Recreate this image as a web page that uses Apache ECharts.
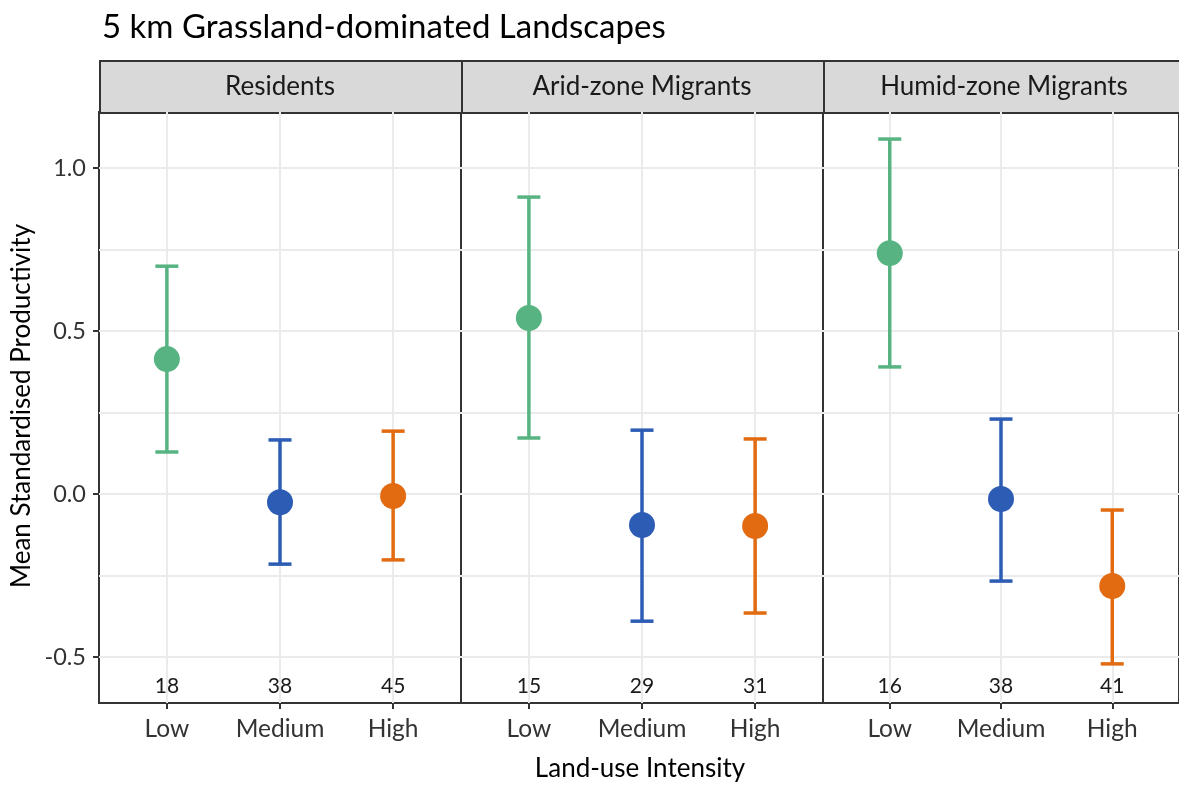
<!DOCTYPE html>
<html>
<head>
<meta charset="utf-8">
<script src="https://cdn.jsdelivr.net/npm/echarts@6/dist/echarts.min.js"></script>
<style>
html,body{margin:0;padding:0;background:#fff}
#main{width:1179px;height:785px}
</style>
</head>
<body>
<div id="main"></div>
<script>
// data
var panels = ['Residents', 'Arid-zone Migrants', 'Humid-zone Migrants'];
var categories = ['Low', 'Medium', 'High'];
var means = [[0.414, -0.025, -0.006], [0.540, -0.095, -0.098], [0.739, -0.015, -0.282]];
var lower = [[0.129, -0.215, -0.202], [0.172, -0.390, -0.365], [0.390, -0.267, -0.521]];
var upper = [[0.699, 0.166, 0.193], [0.911, 0.196, 0.169], [1.089, 0.230, -0.049]];
var counts = [[18, 38, 45], [15, 29, 31], [16, 38, 41]];
var yTicks = [-0.5, 0, 0.5, 1.0];
var yGrid = [-0.5, -0.25, 0, 0.25, 0.5, 0.75, 1.0];

var colors = ['#57b482', '#2d5cb4', '#e26b12']; // low, medium, high
var font = 'Lato';
var yMin = -0.641, yMax = 1.172;
var countY = -0.59;
var panelLeft = 99, panelW = 362, panelTop = 112, panelBottom = 703;

var mychart = echarts.init(document.getElementById('main'));

var grids = [], xAxes = [], yAxes = [], series = [], graphics = [];
for (var p = 0; p < panels.length; p++) {
	grids.push({
		left: panelLeft + panelW * p, top: panelTop, width: panelW,
		height: panelBottom - panelTop,
		show: true, borderColor: '#333', borderWidth: 2, backgroundColor: '#fff'
	});
	xAxes.push({
		type: 'value', gridIndex: p, min: 0.4, max: 3.6, position: 'bottom',
		axisLine: {show: false, onZero: false},
		axisTick: {show: true, length: 6, customValues: [1, 2, 3], lineStyle: {color: '#333', width: 2}},
		axisLabel: {customValues: [1, 2, 3], margin: 14, fontFamily: font, fontSize: 24.5, color: '#333',
			formatter: function (v) { return categories[Math.round(v) - 1]; }},
		splitLine: {show: true, lineStyle: {color: '#ebebeb', width: 2}}
	});
	// gridlines (major + minor)
	yAxes.push({
		type: 'value', gridIndex: p, min: yMin, max: yMax, position: 'right',
		axisLine: {show: false, onZero: false},
		axisTick: {show: false, customValues: yGrid},
		axisLabel: {show: false},
		splitLine: {show: true, lineStyle: {color: '#ebebeb', width: 2}}
	});
}
// left axis with labels
yAxes.push({
	type: 'value', gridIndex: 0, min: yMin, max: yMax, position: 'left',
	axisLine: {show: false, onZero: false},
	axisTick: {show: true, length: 6, customValues: yTicks, lineStyle: {color: '#333', width: 2}},
	axisLabel: {customValues: yTicks, margin: 13, fontFamily: font, fontSize: 23.5, color: '#333',
		formatter: function (v) { return v.toFixed(1); }},
	splitLine: {show: false}
});

for (var p = 0; p < panels.length; p++) {
	var ebData = [], ptData = [], nData = [];
	for (var i = 0; i < categories.length; i++) {
		ebData.push([i + 1, lower[p][i], upper[p][i], i]);
		ptData.push({value: [i + 1, means[p][i]], itemStyle: {color: colors[i], opacity: 1}});
		nData.push([i + 1, countY, counts[p][i]]);
	}
	series.push({
		type: 'custom', xAxisIndex: p, yAxisIndex: p, z: 3,
		data: ebData,
		renderItem: function (params, api) {
			var lo = api.coord([api.value(0), api.value(1)]);
			var hi = api.coord([api.value(0), api.value(2)]);
			var c = colors[api.value(3)];
			var hw = 11.5;
			var st = {stroke: c, lineWidth: 3.5};
			return {type: 'group', children: [
				{type: 'line', shape: {x1: lo[0], y1: lo[1], x2: hi[0], y2: hi[1]}, style: st},
				{type: 'line', shape: {x1: lo[0] - hw, y1: lo[1], x2: lo[0] + hw, y2: lo[1]}, style: st},
				{type: 'line', shape: {x1: hi[0] - hw, y1: hi[1], x2: hi[0] + hw, y2: hi[1]}, style: st}
			]};
		}
	});
	series.push({
		type: 'scatter', xAxisIndex: p, yAxisIndex: p, z: 4,
		symbolSize: 26, itemStyle: {opacity: 1}, data: ptData
	});
	series.push({
		type: 'custom', xAxisIndex: p, yAxisIndex: p, z: 4,
		data: nData,
		renderItem: function (params, api) {
			var pt = api.coord([api.value(0), api.value(1)]);
			return {type: 'text', style: {x: pt[0], y: pt[1], text: String(api.value(2)),
				fontFamily: font, fontSize: 21, fill: '#1a1a1a', align: 'center', verticalAlign: 'middle'}};
		}
	});
	// facet strip
	graphics.push({
		type: 'rect', left: panelLeft + panelW * p, top: 60,
		shape: {width: panelW, height: panelTop - 60},
		style: {fill: '#d9d9d9', stroke: '#333', lineWidth: 2}
	});
	graphics.push({
		type: 'text', x: panelLeft + panelW * p + panelW / 2, y: 87,
		style: {text: panels[p], fontFamily: font, fontSize: 26, fill: '#1a1a1a', align: 'center', verticalAlign: 'middle'}
	});
}
graphics.push({
	type: 'text', x: 640, y: 769,
	style: {text: 'Land-use Intensity', fontFamily: font, fontSize: 26, fill: '#000', align: 'center', verticalAlign: 'middle'}
});
graphics.push({
	type: 'text', x: 22, y: 406, rotation: Math.PI / 2,
	style: {text: 'Mean Standardised Productivity', fontFamily: font, fontSize: 26, fill: '#000', align: 'center', verticalAlign: 'middle'}
});

var option = {
	backgroundColor: '#fff',
	animation: false,
	title: {
		text: '5 km Grassland-dominated Landscapes', left: 97, top: 6,
		textStyle: {fontFamily: font, fontSize: 33, fontWeight: 'normal', color: '#000'}
	},
	grid: grids,
	xAxis: xAxes,
	yAxis: yAxes,
	series: series,
	graphic: graphics
};
mychart.setOption(option);
</script>
</body>
</html>
